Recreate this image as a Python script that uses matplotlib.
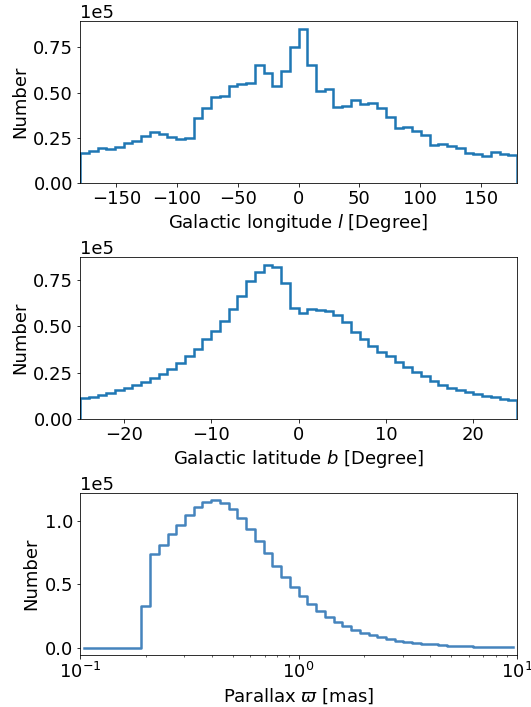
import numpy as np
import matplotlib
matplotlib.use("Agg")
import matplotlib.pyplot as plt

plt.rcParams["font.size"] = 18

# counts per bin (in units of 1e5 stars)
lon_counts = [0.167, 0.178, 0.193, 0.187, 0.198, 0.220, 0.230, 0.259, 0.280, 0.269,
              0.254, 0.241, 0.250, 0.360, 0.413, 0.474, 0.483, 0.537, 0.548, 0.552,
              0.652, 0.611, 0.539, 0.619, 0.750, 0.854, 0.654, 0.509, 0.519, 0.420,
              0.428, 0.457, 0.439, 0.443, 0.413, 0.363, 0.302, 0.311, 0.285, 0.265,
              0.211, 0.215, 0.204, 0.196, 0.163, 0.159, 0.150, 0.169, 0.161, 0.156]
lat_counts = [0.111, 0.118, 0.129, 0.141, 0.154, 0.166, 0.184, 0.202, 0.223, 0.241,
              0.270, 0.304, 0.339, 0.380, 0.429, 0.475, 0.529, 0.595, 0.666, 0.745,
              0.791, 0.832, 0.820, 0.732, 0.600, 0.570, 0.593, 0.588, 0.584, 0.561,
              0.521, 0.470, 0.434, 0.396, 0.363, 0.341, 0.309, 0.282, 0.254, 0.230,
              0.205, 0.184, 0.168, 0.155, 0.145, 0.134, 0.125, 0.116, 0.107, 0.102]
plx_counts = [0.0, 0.0, 0.0, 0.0, 0.0, 0.0, 0.0, 0.326, 0.739, 0.809,
              0.896, 0.969, 1.050, 1.110, 1.149, 1.162, 1.144, 1.097, 1.023, 0.940,
              0.841, 0.744, 0.648, 0.559, 0.478, 0.407, 0.342, 0.290, 0.243, 0.201,
              0.170, 0.141, 0.117, 0.099, 0.081, 0.068, 0.055, 0.044, 0.037, 0.031,
              0.026, 0.021, 0.016, 0.013, 0.010, 0.008, 0.006, 0.004, 0.003, 0.002]

lon_edges = np.linspace(-180, 180, 51)
lat_edges = np.linspace(-25, 25, 51)
plx_edges = np.logspace(-1, 1, 51)

lon_counts = np.array(lon_counts) * 1e5
lat_counts = np.array(lat_counts) * 1e5
plx_counts = np.array(plx_counts) * 1e5
plx_centers = np.sqrt(plx_edges[:-1] * plx_edges[1:])

fig, axes = plt.subplots(3, 1, figsize=(531 / 72, 707 / 72), dpi=72)
plt.subplots_adjust(left=0.1507, right=0.9736, top=0.9703, bottom=0.0735, hspace=0.458)

ax = axes[0]
ax.hist(0.5 * (lon_edges[:-1] + lon_edges[1:]), bins=lon_edges, weights=lon_counts,
        histtype="step", lw=2.5)
ax.set_xlim(-180, 180)
ax.set_xlabel("Galactic longitude $l$ [Degree]")
ax.set_ylabel("Number")
ax.ticklabel_format(axis="y", style="sci", scilimits=(5, 5))

ax = axes[1]
ax.hist(0.5 * (lat_edges[:-1] + lat_edges[1:]), bins=lat_edges, weights=lat_counts,
        histtype="step", lw=2.5)
ax.set_xlim(-25, 25)
ax.set_xlabel("Galactic latitude $b$ [Degree]")
ax.set_ylabel("Number")
ax.ticklabel_format(axis="y", style="sci", scilimits=(5, 5))

ax = axes[2]
ax.plot(plx_centers, plx_counts, drawstyle="steps-mid", lw=2.5, color="#4584bd")
ax.set_xscale("log")
ax.set_xlim(0.1, 10)
ax.set_xlabel(r"Parallax $\varpi$ [mas]")
ax.set_ylabel("Number")
ax.ticklabel_format(axis="y", style="sci", scilimits=(5, 5))

fig.savefig("out.png", dpi=72)
